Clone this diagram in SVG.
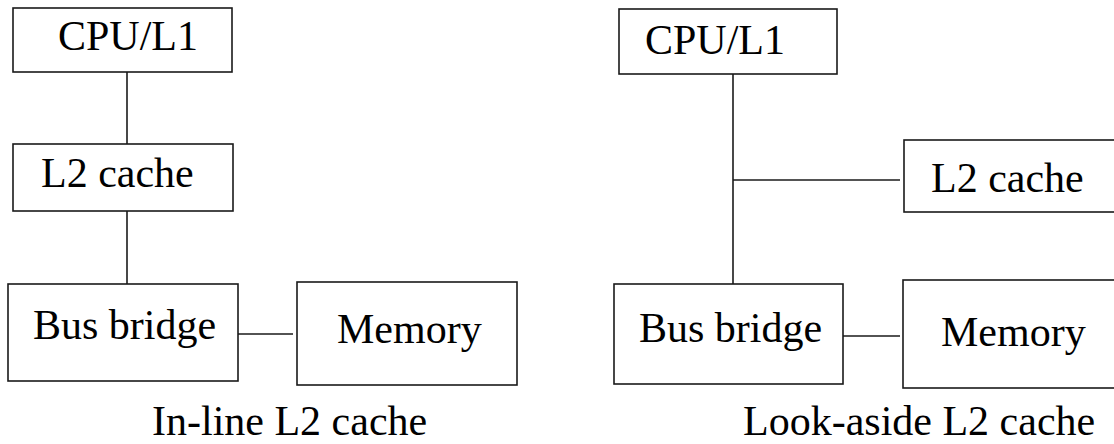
<svg xmlns="http://www.w3.org/2000/svg" width="1114" height="444" viewBox="0 0 1114 444">
<style>
.box{fill:#fff;stroke:#1a1a1a;stroke-width:1.6}
.ln{stroke:#1a1a1a;stroke-width:1.6;fill:none}
.t{font-family:'Liberation Serif','DejaVu Serif',serif;font-size:42px;fill:#000}
</style>
<rect width="1114" height="444" fill="#fff"/>
<g id="connectors">
<line class="ln" x1="127" y1="72" x2="127" y2="144"/>
<line class="ln" x1="127" y1="211" x2="127" y2="284"/>
<line class="ln" x1="238" y1="334" x2="293" y2="334"/>
<line class="ln" x1="733" y1="74" x2="733" y2="284"/>
<line class="ln" x1="733" y1="180" x2="900" y2="180"/>
<line class="ln" x1="843" y1="336" x2="900" y2="336"/>
</g>
<g id="l-cpu"><rect class="box" x="13" y="8" width="219" height="64"/><text class="t" x="58" y="50">CPU/L1</text></g>
<g id="l-l2"><rect class="box" x="13" y="144" width="220" height="67"/><text class="t" x="41" y="187">L2 cache</text></g>
<g id="l-bus"><rect class="box" x="8" y="284" width="230" height="97"/><text class="t" x="33" y="339">Bus bridge</text></g>
<g id="l-mem"><rect class="box" x="297" y="282" width="220" height="103"/><text class="t" x="337" y="343">Memory</text></g>
<g id="l-caption"><text class="t" x="152" y="435">In-line L2 cache</text></g>
<g id="r-cpu"><rect class="box" x="619" y="9" width="218" height="65"/><text class="t" x="645" y="54">CPU/L1</text></g>
<g id="r-l2"><rect class="box" x="904" y="140" width="220" height="72"/><text class="t" x="931" y="192">L2 cache</text></g>
<g id="r-bus"><rect class="box" x="614" y="284" width="229" height="100"/><text class="t" x="639" y="342">Bus bridge</text></g>
<g id="r-mem"><rect class="box" x="903" y="280" width="220" height="108"/><text class="t" x="941" y="346">Memory</text></g>
<g id="r-caption"><text class="t" x="743" y="435">Look-aside L2 cache</text></g>
</svg>
